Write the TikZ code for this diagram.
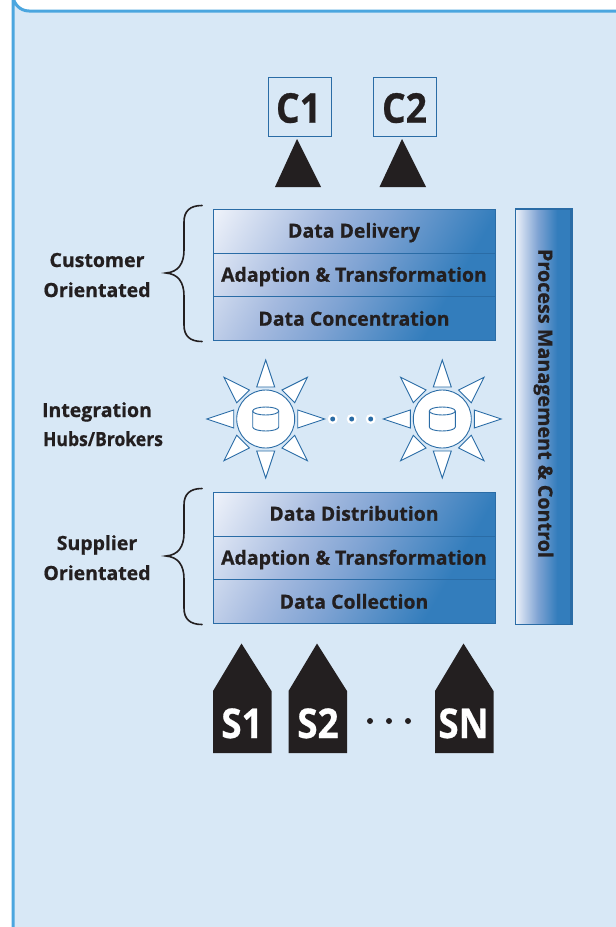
\documentclass[tikz,border=0pt]{standalone}
\usepackage{fontspec}
\setmainfont{Open Sans}[BoldFeatures={FakeBold=0.7}]
\usetikzlibrary{calc}
\definecolor{panelfill}{HTML}{D8E8F6}
\definecolor{panelline}{HTML}{4BA6DF}
\definecolor{edgeblue}{HTML}{2A6CA6}
\definecolor{darkblue}{HTML}{337DBC}
\definecolor{inkblack}{HTML}{231F20}
\definecolor{gradA}{HTML}{EEF2FA}
\definecolor{gradB}{HTML}{A5BADF}
\definecolor{gradC}{HTML}{7FA3D3}
\pgfdeclarehorizontalshading{stackgrad}{100bp}{color(0bp)=(gradA); color(30.75bp)=(gradA); color(43bp)=(gradB); color(50bp)=(gradC); color(61.6bp)=(darkblue); color(100bp)=(darkblue)}
\pgfdeclarehorizontalshading{bargrad}{100bp}{color(0bp)=(gradA); color(25bp)=(gradA); color(45bp)=(gradC); color(62bp)=(darkblue); color(100bp)=(darkblue)}
\tikzset{
  x=1pt,y=-1pt,
  rowlabel/.style={font=\bfseries\fontsize{19.5}{20}\selectfont,text=inkblack,inner sep=0pt,anchor=base},
  sidelabel/.style={font=\bfseries\fontsize{19.5}{20}\selectfont,text=inkblack,inner sep=0pt,anchor=base},
  barlabel/.style={font=\bfseries\fontsize{19.75}{20}\selectfont,text=inkblack,inner sep=0pt,anchor=base},
  bigdark/.style={font=\bfseries\fontsize{41}{42}\selectfont,text=inkblack,inner sep=0pt,anchor=base,xscale=.91},
  biglight/.style={font=\bfseries\fontsize{41}{42}\selectfont,text=white,inner sep=0pt,anchor=base,xscale=.9},
  cbox/.style={draw=edgeblue,line width=1pt,fill=panelfill,minimum width=63pt,minimum height=59.5pt,inner sep=0pt},
  blackshape/.style={fill=inkblack,draw=none},
  rowline/.style={draw=edgeblue,line width=1pt},
  ray/.style={fill=white,draw=edgeblue,line width=.9pt,line join=miter},
  bracket/.style={draw=inkblack,line width=1.6pt,line cap=round},
  blueline/.style={draw=edgeblue,line width=.9pt},
}
\newcommand{\mysun}[1]{%
  \begin{scope}[shift={(#1)}]
    \foreach \a in {0,45,...,315}{
      \draw[ray,rotate=\a] (59,0) -- (32,-9) -- (32,9) -- cycle;
    }
    \draw[fill=white,blueline] (0,0) circle (29);
    \draw[fill=white,blueline] (-13,-8) -- (-13,8) arc[start angle=180,end angle=0,x radius=13,y radius=4] -- (13,-8);
    \draw[fill=white,blueline] (0,-8) ellipse [x radius=13,y radius=4];
  \end{scope}}
\newcommand{\mystack}[4]{%
  \begin{scope}[yshift=-#1pt]
    \begin{scope}
      \clip (213,209) rectangle (495,340);
      \shade[shading=stackgrad,shading angle=-30] (154,75) rectangle (554,475);
    \end{scope}
    \draw[rowline] (213,209) rectangle (495,340);
    \draw[rowline] (213,253) -- (495,253);
    \draw[rowline] (213,296.5) -- (495,296.5);
    \node[rowlabel] at (354,237.7) {#2};
    \node[rowlabel] at (354,281.7) {#3};
    \node[rowlabel] at (354,325.7) {#4};
    \draw[bracket] (202,205.5) .. controls (190,205.5) and (184,211) .. (184,222)
      -- (184,250) .. controls (184,264) and (178,272) .. (166,273)
      .. controls (178,274) and (184,282) .. (184,296)
      -- (184,325) .. controls (184,336) and (190,341.5) .. (202,341.5);
  \end{scope}}
\begin{document}
\begin{tikzpicture}
\useasboundingbox (0,0) rectangle (616,927);
\fill[white] (0,0) rectangle (616,927);
\draw[fill=panelfill,draw=panelline,line width=3pt]
  (630,11) -- (29,11) arc[start angle=90,end angle=180,radius=16] -- (13,940) -- (630,940);
\clip (0,0) rectangle (616,927);

\node[cbox] (c1) at (299.75,106.75) {};
\node[bigdark] at (298.5,122.7) {C1};
\node[cbox] (c2) at (404.5,106.75) {};
\node[bigdark] at (404.5,122.7) {C2};
\fill[blackshape] (297,139) -- (321,187) -- (275,187) -- cycle;
\fill[blackshape] (402,139) -- (426,187) -- (379.5,187) -- cycle;

\mystack{0}{Data Delivery}{Adaption \& Transformation}{Data Concentration}
\mystack{283}{Data Distribution}{Adaption \& Transformation}{Data Collection}

\node[sidelabel] at (97,267) {Customer};
\node[sidelabel] at (97,297) {Orientated};
\node[sidelabel] at (97,417) {Integration};
\node[sidelabel,xscale=.9] at (103,446) {Hubs/Brokers};
\node[sidelabel] at (97,550) {Supplier};
\node[sidelabel] at (97,580) {Orientated};

\mysun{265.7,419}
\mysun{442.3,419}
\foreach \x in {332.7,351.7,370.7}{
  \fill[white] (\x,419) circle (5);
  \fill[edgeblue] (\x,419) circle (2.5);
}

\shade[shading=bargrad] (515,208) rectangle (572,624);
\draw[blueline] (515,208) rectangle (572,624);
\draw[draw=edgeblue,line width=2.4pt] (515,209) -- (571.5,209) -- (571.5,624);
\node[barlabel,rotate=-90] (pm) at (538.3,403.5) {Process Management \& Control};

\fill[blackshape] (213,691) -- (241.5,643.5) -- (271.5,691) -- (271.5,753) -- (213,753) -- cycle;
\fill[blackshape] (288.5,691) -- (317,643.5) -- (347,691) -- (347,753) -- (288.5,753) -- cycle;
\fill[blackshape] (435,691) -- (463.5,643.5) -- (493.5,691) -- (493.5,753) -- (435,753) -- cycle;
\node[biglight] at (242,738) {S1};
\node[biglight] at (318,738) {S2};
\node[biglight] at (463.5,738) {SN};
\foreach \x in {370,389,408}{\fill[inkblack] (\x,721) circle (3);}
\end{tikzpicture}
\end{document}
